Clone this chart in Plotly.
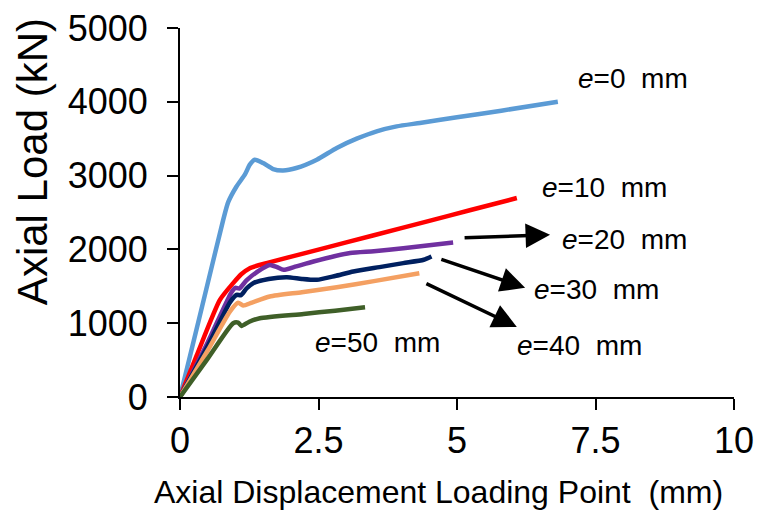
import plotly.graph_objects as go

# ---- data ----
x_e0 = [0, 0.40, 0.78, 0.87, 1.02, 1.17, 1.26, 1.35, 1.50, 1.68, 1.86, 2.10, 2.47, 2.83, 3.19, 3.55, 3.91, 4.33, 5.00, 5.80, 6.82]
y_e0 = [0, 1230, 2400, 2640, 2853, 3012, 3148, 3215, 3170, 3089, 3070, 3103, 3216, 3375, 3500, 3600, 3667, 3714, 3790, 3880, 4000]

x_e10 = [0, 0.30, 0.72, 0.96, 1.10, 1.26, 1.56, 2.50, 3.50, 4.50, 5.23, 6.08]
y_e10 = [0, 560, 1316, 1543, 1660, 1746, 1814, 1997, 2192, 2387, 2530, 2696]

x_e20 = [0, 0.50, 0.93, 1.00, 1.07, 1.20, 1.40, 1.62, 1.75, 1.87, 2.10, 2.41, 3.07, 3.50, 4.03, 4.93]
y_e20 = [0, 740, 1420, 1480, 1470, 1580, 1700, 1790, 1760, 1723, 1770, 1836, 1950, 1975, 2017, 2094]

x_e30 = [0, 0.50, 0.90, 1.02, 1.10, 1.20, 1.32, 1.60, 1.93, 2.20, 2.47, 2.80, 3.13, 3.60, 4.03, 4.40, 4.54]
y_e30 = [0, 690, 1280, 1384, 1380, 1470, 1543, 1600, 1624, 1600, 1588, 1640, 1700, 1760, 1814, 1860, 1904]

x_e40 = [0, 0.50, 0.90, 1.05, 1.14, 1.30, 1.62, 2.20, 2.83, 3.50, 4.32]
y_e40 = [0, 630, 1157, 1277, 1240, 1280, 1361, 1420, 1488, 1570, 1678]

x_e50 = [0, 0.50, 0.96, 1.05, 1.11, 1.25, 1.44, 2.23, 2.80, 3.34]
y_e50 = [0, 520, 1000, 1008, 963, 1020, 1068, 1126, 1170, 1217]

x_ticks = [0, 2.5, 5, 7.5, 10]
x_tick_labels = ["0", "2.5", "5", "7.5", "10"]
y_ticks = [0, 1000, 2000, 3000, 4000, 5000]

series = [
    ("e=0 mm", x_e0, y_e0, "#5B9BD5"),
    ("e=10 mm", x_e10, y_e10, "#FF0000"),
    ("e=20 mm", x_e20, y_e20, "#7030A0"),
    ("e=30 mm", x_e30, y_e30, "#002060"),
    ("e=40 mm", x_e40, y_e40, "#F4A062"),
    ("e=50 mm", x_e50, y_e50, "#3F5F28"),
]

# label text positions (data coords, left anchored) and optional arrows
labels = [
    ("e=0", 7.15, 4315, None),
    ("e=10", 6.50, 2836, None),
    ("e=20", 6.86, 2130, (5.11, 2157, 6.68, 2198)),
    ("e=30", 6.35, 1452, (4.69, 1872, 6.23, 1479)),
    ("e=40", 6.05, 692, (4.42, 1547, 6.08, 950)),
    ("e=50", 2.40, 733, None),
]

FONT = "Arial, Liberation Sans, sans-serif"

fig = go.Figure()
for name, xs, ys, col in series:
    fig.add_trace(go.Scatter(
        x=xs, y=ys, mode="lines", name=name,
        line=dict(color=col, width=4.5, shape="spline", smoothing=0.6),
        showlegend=False,
    ))

for txt, lx, ly, arr in labels:
    val = txt.split("=")[1]
    fig.add_annotation(
        x=lx, y=ly, xref="x", yref="y",
        text="<i>e</i>=" + val + "\u00a0 mm",
        showarrow=False, xanchor="left", yanchor="middle",
        font=dict(family=FONT, size=28, color="black"),
    )
    if arr is not None:
        tx, ty, hx, hy = arr
        fig.add_annotation(
            x=hx, y=hy, ax=tx, ay=ty, xref="x", yref="y", axref="x", ayref="y",
            text="", showarrow=True, arrowhead=2, arrowsize=1.4, arrowwidth=3.5,
            arrowcolor="black", standoff=0, startstandoff=0,
        )

# axis titles as annotations for precise placement
fig.add_annotation(
    x=0.466, y=-0.257, xref="paper", yref="paper",
    text="Axial Displacement Loading Point\u00a0 (mm)", showarrow=False,
    xanchor="center", yanchor="middle",
    font=dict(family=FONT, size=32, color="black"),
)
fig.add_annotation(
    x=-0.265, y=0.637, xref="paper", yref="paper",
    text="Axial Load (kN)", showarrow=False, textangle=-90,
    xanchor="center", yanchor="middle",
    font=dict(family=FONT, size=42, color="black"),
)

fig.update_layout(
    width=757, height=512,
    margin=dict(l=180, r=23, t=28, b=115),
    paper_bgcolor="white", plot_bgcolor="white",
    font=dict(family=FONT, color="black"),
)
fig.update_xaxes(
    range=[0, 10], tickvals=x_ticks, ticktext=x_tick_labels,
    showgrid=False, zeroline=False, showline=True, linecolor="black", linewidth=2,
    ticks="outside", ticklen=11, tickwidth=2, tickcolor="black",
    tickfont=dict(family=FONT, size=36, color="black"),
    automargin=False, ticklabeloverflow="allow",
)
fig.update_yaxes(
    range=[0, 5000], tickvals=y_ticks,
    showgrid=False, zeroline=False, showline=True, linecolor="black", linewidth=2,
    ticks="outside", ticklen=11, tickwidth=2, tickcolor="black",
    tickfont=dict(family=FONT, size=36, color="black"),
    ticklabelstandoff=12, automargin=False, ticklabeloverflow="allow",
)

fig.write_html(
    "out.html",
    config={"displayModeBar": False},
    post_script="document.body.style.margin='0';document.body.style.overflow='hidden';",
)
